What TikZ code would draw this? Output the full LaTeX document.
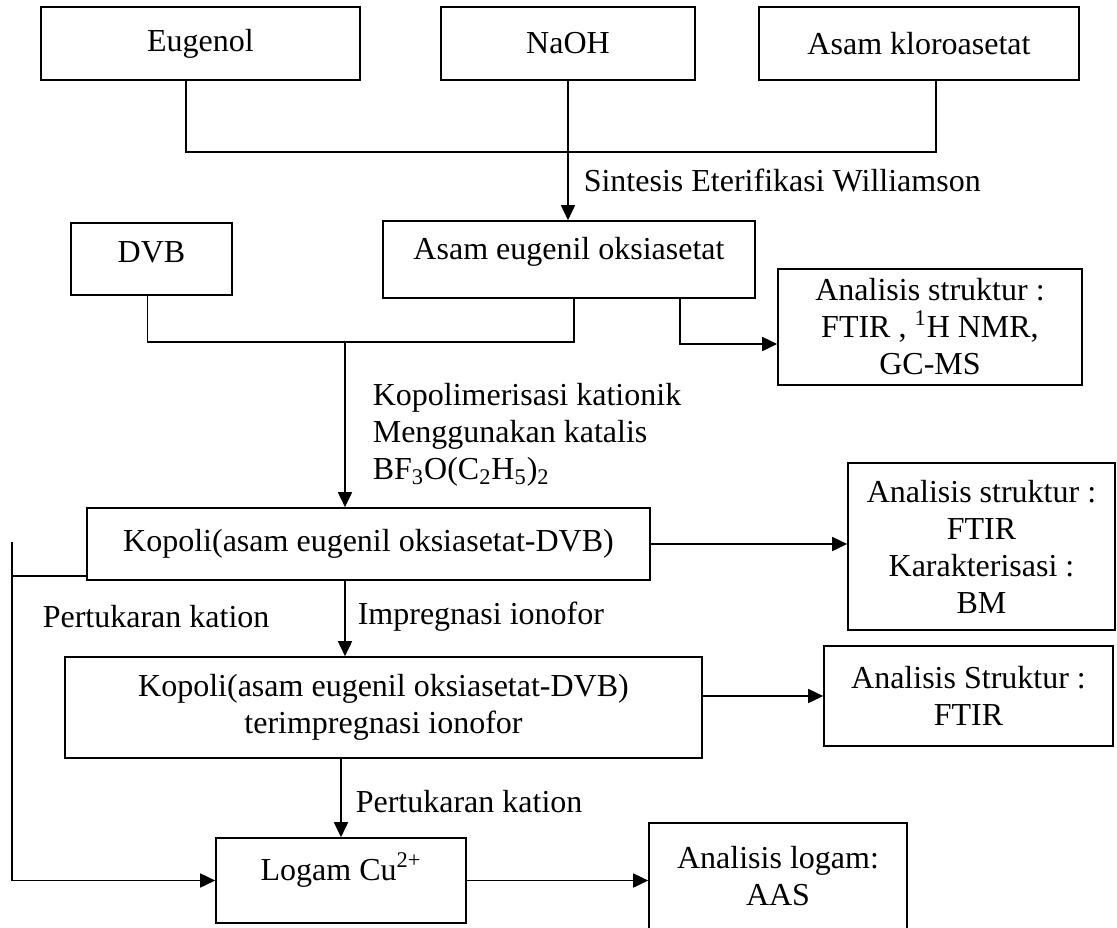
\documentclass[tikz,border=0pt]{standalone}
\usepackage{fontspec}
\setmainfont{Liberation Serif}
\usetikzlibrary{arrows.meta}

\begin{document}
\begin{tikzpicture}[x=0.5pt, y=-0.5pt,
    >={Triangle[length=7.5pt,width=7pt]},
    line width=0.8pt,
    every node/.append style={align=center, font=\fontsize{16pt}{18.5pt}\selectfont},
    box/.style={draw, line width=0.8pt, inner sep=0pt},
    raised/.style={text depth=#1},
    lbl/.style={anchor=west, inner sep=0pt, align=left}]
  \useasboundingbox (0,0) rectangle (1117,927);

  % bahan awal
  \node [box, minimum width=159.5pt, minimum height=36.5pt] (eug)   at (200.5,43.5) {Eugenol};
  \node [box, minimum width=127pt,   minimum height=36.5pt] (naoh)  at (568,43.5)   {NaOH};
  \node [box, minimum width=160pt,   minimum height=36.5pt] (kloro) at (919,43.5)   {Asam kloroasetat};

  \node [box, raised=7pt,  minimum width=80.5pt, minimum height=36pt]   (dvb) at (151.5,259) {DVB};
  \node [box, raised=11pt, minimum width=186pt,  minimum height=38.5pt] (aeo) at (569,259.5) {Asam eugenil oksiasetat};
  \node [box, minimum width=152pt,  minimum height=58pt]   (an1) at (930,327)
        {Analisis struktur :\\ FTIR , \textsuperscript{1}H NMR,\\ GC-MS};

  \node [box, minimum width=281.5pt, minimum height=36pt]   (kop) at (368.5,544)
        {Kopoli(asam eugenil oksiasetat-DVB)};
  \node [box, minimum width=133.5pt, minimum height=83.5pt] (an2) at (981.5,546.5)
        {Analisis struktur :\\ FTIR\\ Karakterisasi :\\ BM};

  \node [box, minimum width=318.5pt, minimum height=50.5pt] (kopimp) at (383.5,707.5)
        {Kopoli(asam eugenil oksiasetat-DVB)\\ terimpregnasi ionofor};
  \node [box, minimum width=144.5pt, minimum height=50pt]   (an3) at (968.5,696)
        {Analisis Struktur :\\ FTIR};

  \node [box, raised=14pt, minimum width=125pt, minimum height=42.5pt] (logam) at (341,880.5) {Logam Cu\textsuperscript{2+}};
  \node [box, minimum width=129pt, minimum height=53pt]   (aas)   at (778,876)
        {Analisis logam:\\ AAS};

  % keterangan proses
  \node [lbl] (sint) at (583,180) {Sintesis Eterifikasi Williamson};
  \node [lbl] (kat)  at (372,435)
        {Kopolimerisasi kationik\\ Menggunakan katalis\\ BF\textsubscript{3}O(C\textsubscript{2}H\textsubscript{5})\textsubscript{2}};
  \node [lbl] (pk1)  at (42,617)  {Pertukaran kation};
  \node [lbl] (imp)  at (357,617) {Impregnasi ionofor};
  \node [lbl] (pk2)  at (355,802) {Pertukaran kation};

  \coordinate (j1) at (186,152);
  \coordinate (j2) at (936,152);
  \coordinate (j3) at (147.5,342);
  \coordinate (j4) at (574,342);
  \coordinate (j5) at (345,342);
  \coordinate (j6) at (680,344);
  \coordinate (l1) at (12,542);
  \coordinate (l2) at (12,576);

  \draw (eug.south -| j1) -- (j1) -- (j2) -- (kloro.south -| j2);
  \draw[->] (naoh.south) -- (naoh.south |- aeo.north);
  \draw (dvb.south -| j3) -- (j3) -- (j4) -- (aeo.south -| j4);
  \draw[->] (j5) -- (j5 |- kop.north);
  \draw[->] (aeo.south -| j6) -- (j6) -- (j6 -| an1.west);
  \draw[->] (kop.east) -- (kop.east -| an2.west);
  \draw[->] (kop.south -| j5) -- (j5 |- kopimp.north);
  \draw (l2) -- (l2 -| kop.west);
  \draw[->] (l1) |- (logam.west);
  \draw[->] (an3.west -| kopimp.east) -- (an3.west);
  \draw[->] (logam.north |- kopimp.south) -- (logam.north);
  \draw[->] (logam.east) -- (logam.east -| aas.west);
\end{tikzpicture}
\end{document}
